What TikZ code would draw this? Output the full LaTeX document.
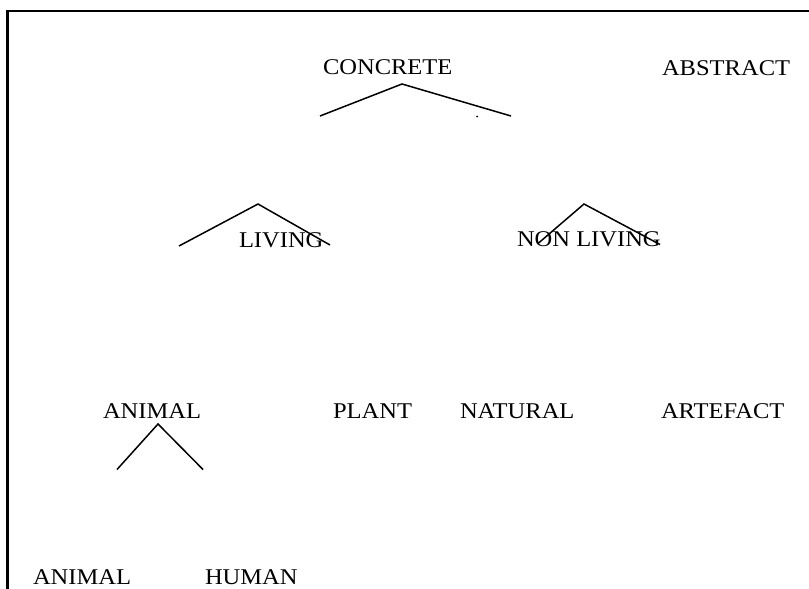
\documentclass[tikz,border=0pt]{standalone}
\usepackage{fontspec}
\setmainfont{Liberation Serif}
\newfontfamily\lblfamily[FakeStretch=1.09]{Liberation Serif}
\begin{document}
\begin{tikzpicture}[x=1pt,y=-1pt,
  lbl/.style={anchor=base west, inner sep=0pt, outer sep=0pt, font=\lblfamily\fontsize{22.5}{22.5}\selectfont},
  frameline/.style={line width=2.2pt, line cap=rect},
  branch/.style={line width=1.5pt}]
\useasboundingbox (0,0) rectangle (809,589);
% frame (top and left edges)
\coordinate (fbl) at (7.5,595);
\coordinate (ftl) at (7.5,11);
\coordinate (ftr) at (815,11);
\draw[frameline] (fbl) -- (ftl) -- (ftr);
% labels
\node[lbl] (concrete) at (323,74.5) {CONCRETE};
\node[lbl] (abstract) at (662,75) {ABSTRACT};
\node[lbl] (living) at (239,247) {LIVING};
\node[lbl] (nonliving) at (517,246.5) {NON LIVING};
\node[lbl] (animal) at (103,418) {ANIMAL};
\node[lbl] (plant) at (333,418) {PLANT};
\node[lbl] (natural) at (460,418) {NATURAL};
\node[lbl] (artefact) at (661,418) {ARTEFACT};
\node[lbl] (animal2) at (33,584) {ANIMAL};
\node[lbl] (human) at (205,584) {HUMAN};
% branches
\coordinate (c0) at (402,84);
\coordinate (c1) at (320,116);
\coordinate (c2) at (511,116);
\draw[branch] (c1) -- (c0) -- (c2);
\fill (477,116.5) circle (1);
\coordinate (l0) at (258,204);
\coordinate (l1) at (179,246);
\coordinate (l2) at (330,245);
\draw[branch] (l1) -- (l0) -- (l2);
\coordinate (n0) at (584,204);
\coordinate (n1) at (538,243.5);
\coordinate (n2) at (660,244.5);
\draw[branch] (n1) -- (n0) -- (n2);
\coordinate (a0) at (158,424);
\coordinate (a1) at (117,469.5);
\coordinate (a2) at (203,469.5);
\draw[branch] (a1) -- (a0) -- (a2);
\end{tikzpicture}
\end{document}
